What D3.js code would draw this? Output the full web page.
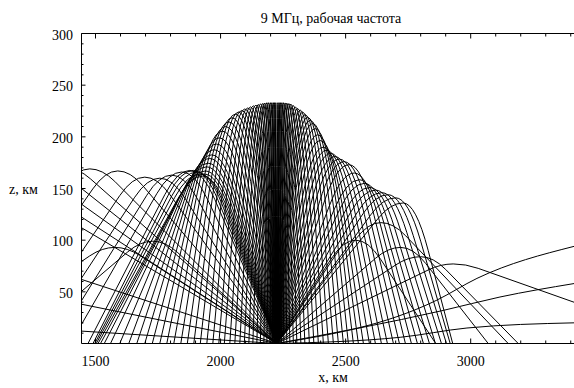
<!DOCTYPE html>
<html><head><meta charset="utf-8">
<script src="https://cdn.jsdelivr.net/npm/d3@7"></script>
<style>
body{margin:0;background:#fff}
svg{display:block}
text{font-family:"Liberation Serif","Times New Roman",serif;font-size:14px;fill:#000}
</style>
</head><body>
<svg id="c" width="574" height="388"></svg>
<script>
// ---------- data ----------
const titleText = "9 МГц, рабочая частота";
const xLabelText = "x, км";
const zLabelText = "z, км";
const xTickLabels = [1500, 2000, 2500, 3000];
const xMinorTicks = [1500,1600,1700,1800,1900,2000,2100,2200,2300,2400,2500,2600,2700,2800,2900,3000,3100,3200,3300,3400];
const zTickLabels = [50, 100, 150, 200, 250, 300];
const zMinorTicks = [10,20,30,40,60,70,80,90,110,120,130,140,160,170,180,190,210,220,230,240,260,270,280,290];
const sourceX = 2225;

// rays: [apex x (km), apex z (km), landing x (km)]
const leftDomeRays = [
 [2221,233,2217],[2216,233,2207],[2211,233,2197],[2205,233,2185],[2199,233,2173],
 [2192,233,2159],[2185,233,2145],[2177,232.7,2129],[2169,232.4,2113],[2160,232,2095],
 [2151,231.3,2077],[2141,230.8,2057],[2131,230,2037],[2120,229,2015],[2109,228,1993],
 [2097,227,1969],[2085,225.5,1945],[2072,224,1919],[2059,222,1893],[2046,218.5,1867],
 [2033,214.5,1841],[2020,210,1813],[2007,205.5,1785],[1995,199,1757],[1984,193,1727],
 [1974,187.5,1697],[1965,182.5,1665],[1957,179,1633],[1950,174.5,1597],[1944,171,1560],
 [1939,167,1535],[1935,164,1520]
];
const leftArchRays = [
 [1929,162,1510],[1917,164,1503],[1905,166,1497],[1891,167.5,1490],[1877,167.5,1470],
 [1845,166,1400],[1805,163,1338],[1757,160,1272],[1697,161,1196],[1589,167,1060],[1477,169,915]
];
const leftFarRays = [
 [1380,170,700],[1290,170,500],[1190,170,300],[1090,170,100],[990,170,-100]
];
const leftLowArchRays = [
 [1729,99,1200],[1577,93,960]
];
const leftGrazingEdgeZ = [62, 38, 12];

const rightDomeRays = [
 [2229,233,2233],[2234,233,2243],[2239,233,2253],[2245,233,2265],[2251,233,2277],
 [2258,232.8,2291],[2265,232.6,2305],[2273,232.2,2321],[2281,231.7,2337],[2290,230.5,2355],
 [2299,229,2373],[2308,227.5,2391],[2318,226,2411],[2328,224,2431],[2338,221.5,2451],
 [2348,219,2471],[2358,216,2491],[2368,213,2511],[2378,208,2531],[2388,202,2551],
 [2398,196.5,2571],[2410,190,2595],[2424,187,2619],[2440,184,2643],[2457,181,2667],
 [2475,178.5,2691],[2494,176,2715],[2514,173,2739],[2535,165,2763],[2555,158.5,2787],
 [2575,155,2811],[2597,151,2835],[2620,148.5,2859],[2645,146,2883],[2670,144,2903],
 [2700,141,2918],[2730,136,2928]
];
const rightLowArchRays = [
 [2540,100,2860],[2640,117,3150],[2720,93,3070],[2800,84,3190],[2930,77,3880]
];
const rightEscapeRays = [
 [[2225,0],[2865,42],[3025,63],[3413,94]],
 [[2225,0],[2890,32],[3117,45],[3413,58]],
 [[2225,0],[2718,6],[2985,15],[3413,20]]
];

// ---------- layout ----------
const svg = d3.select("#c");
const x = d3.scaleLinear().domain([1444, 3413]).range([81.5, 574]);
const z = d3.scaleLinear().domain([0, 300]).range([343.5, 33.5]);
const bendHalf = 50;   // km
const maxDepth = 110;  // km

svg.append("defs").append("clipPath").attr("id","plot")
  .append("rect").attr("x",x.range()[0]).attr("y",z.range()[1])
  .attr("width",x.range()[1]-x.range()[0]).attr("height",z.range()[0]-z.range()[1]);

function depthFor(D, za){
  let d = D > bendHalf + 1 ? bendHalf*za/(D - bendHalf) : maxDepth;
  return Math.max(2, Math.min(maxDepth, d, 0.8*za));
}
function rayPath([xa, za, xl]){
  const p = d3.path();
  const s = Math.sign(xa - sourceX) || 1;
  const D = Math.max(Math.abs(xa - sourceX), 0.5);
  const d1 = depthFor(D, za), h1 = za - d1, m1 = (za + d1)/D;
  const xe = sourceX + s*h1/m1;
  p.moveTo(x(sourceX), z(0));
  p.lineTo(x(xe), z(h1));
  p.quadraticCurveTo(x((xe + xa)/2), z(za), x(xa), z(za));
  const s2 = Math.sign(xl - xa) || s;
  const D2 = Math.max(Math.abs(xl - xa), 0.5);
  const d2 = depthFor(D2, za), h2 = za - d2, m2 = (za + d2)/D2;
  const xd = xl - s2*h2/m2;
  p.quadraticCurveTo(x((xa + xd)/2), z(za), x(xd), z(h2));
  p.lineTo(x(xl), z(0));
  return p.toString();
}

const g = svg.append("g").attr("clip-path","url(#plot)")
  .attr("fill","none").attr("stroke","#000").attr("stroke-width",1);

const allRays = [].concat(leftDomeRays, leftArchRays, leftFarRays, leftLowArchRays,
                          rightDomeRays, rightLowArchRays);
g.selectAll("path.ray").data(allRays).join("path").attr("class","ray").attr("d", rayPath);

g.selectAll("line.graze").data(leftGrazingEdgeZ).join("line").attr("class","graze")
  .attr("x1", x(sourceX)).attr("y1", z(0)).attr("x2", x(1444)).attr("y2", d => z(d));

const escLine = d3.line().x(d => x(d[0])).y(d => z(d[1])).curve(d3.curveMonotoneX);
g.selectAll("path.esc").data(rightEscapeRays).join("path").attr("class","esc").attr("d", escLine);

// ---------- frame & axes ----------
const fr = svg.append("g").attr("stroke","#000").attr("stroke-width",1).attr("fill","none");
fr.append("line").attr("x1",x.range()[0]).attr("x2",574).attr("y1",z(300)).attr("y2",z(300));
fr.append("line").attr("x1",x.range()[0]).attr("x2",574).attr("y1",z(0)).attr("y2",z(0));
fr.append("line").attr("x1",x.range()[0]).attr("x2",x.range()[0]).attr("y1",z(0)).attr("y2",z(300));

fr.selectAll("line.tb").data(xMinorTicks).join("line").attr("class","tb")
  .attr("x1",d=>x(d)).attr("x2",d=>x(d)).attr("y1",z(0)).attr("y2",d=> z(0) - (d%500===0?5:3));
fr.selectAll("line.tt").data(xMinorTicks).join("line").attr("class","tt")
  .attr("x1",d=>x(d)).attr("x2",d=>x(d)).attr("y1",z(300)).attr("y2",d=> z(300) + (d%500===0?5:3));
fr.selectAll("line.tl").data(zTickLabels).join("line").attr("class","tl")
  .attr("x1",x.range()[0]).attr("x2",x.range()[0]+4).attr("y1",d=>z(d)).attr("y2",d=>z(d));
fr.selectAll("line.tm").data(zMinorTicks).join("line").attr("class","tm")
  .attr("x1",x.range()[0]).attr("x2",x.range()[0]+2).attr("y1",d=>z(d)).attr("y2",d=>z(d));

svg.selectAll("text.xl").data(xTickLabels).join("text").attr("class","xl")
  .attr("x",d=>x(d)).attr("y",366).attr("text-anchor","middle").text(d=>d);
svg.selectAll("text.zl").data(zTickLabels).join("text").attr("class","zl")
  .attr("x",73).attr("y",d=>z(d)+6).attr("text-anchor","end").text(d=>d);
svg.append("text").attr("x",331).attr("y",23).attr("text-anchor","middle").text(titleText);
svg.append("text").attr("x",9).attr("y",194).text(zLabelText);
svg.append("text").attr("x",333).attr("y",382).attr("text-anchor","middle").text(xLabelText);
</script>
</body></html>
